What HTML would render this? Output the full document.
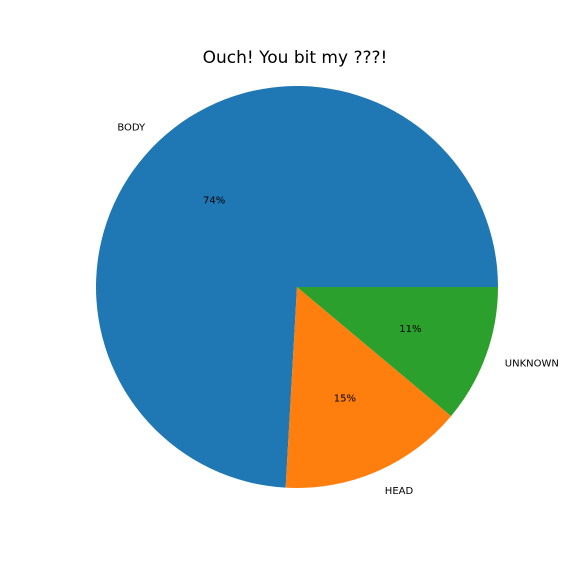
<!DOCTYPE html>
<html><head><meta charset="utf-8"><style>
body{margin:0;background:#fff}
svg{display:block;font-family:"DejaVu Sans","Liberation Sans",sans-serif}
</style></head><body>
<svg id="chart" width="576" height="576">
<text x="295" y="63" font-size="17" text-anchor="middle" fill="#000">Ouch! You bit my ???!</text>
<g id="slices"></g>
</svg>
<script>
const categories = ["BODY", "HEAD", "UNKNOWN"];
const values = [74.1, 14.8, 11.1];
const pctLabels = ["74%", "15%", "11%"];
const colors = ["#1f77b4", "#ff7f0e", "#2ca02c"];
const cx = 297, cy = 287, r = 201;
const g = document.getElementById('slices');
const NS = "http://www.w3.org/2000/svg";
const total = values.reduce((a,b)=>a+b,0);
let a0 = 0;
function pt(a, rr){ return [cx + rr*Math.cos(a*Math.PI/180), cy - rr*Math.sin(a*Math.PI/180)]; }
values.forEach((v,i)=>{
  const span = v/total*360, a1 = a0 + span;
  const p0 = pt(a0, r), p1 = pt(a1, r);
  const path = document.createElementNS(NS, 'path');
  path.setAttribute('d', `M${cx},${cy} L${p0[0]},${p0[1]} A${r},${r} 0 ${span>180?1:0} 0 ${p1[0]},${p1[1]} Z`);
  path.setAttribute('fill', colors[i]);
  
  
  g.appendChild(path);
  const mid = (a0 + a1)/2;
  const lp = pt(mid, r*1.1);
  const t = document.createElementNS(NS, 'text');
  t.setAttribute('x', lp[0]); t.setAttribute('y', lp[1] + 4);
  t.setAttribute('font-size', '10');
  t.setAttribute('text-anchor', Math.cos(mid*Math.PI/180) >= 0 ? 'start' : 'end');
  t.textContent = categories[i];
  
  
  g.appendChild(t);
  const pp = pt(mid, r*0.6);
  const t2 = document.createElementNS(NS, 'text');
  t2.setAttribute('x', pp[0]); t2.setAttribute('y', pp[1] + 4);
  t2.setAttribute('font-size', '10');
  t2.setAttribute('text-anchor', 'middle');
  t2.textContent = pctLabels[i];
  
  
  g.appendChild(t2);
  a0 = a1;
});
</script>
</body></html>
